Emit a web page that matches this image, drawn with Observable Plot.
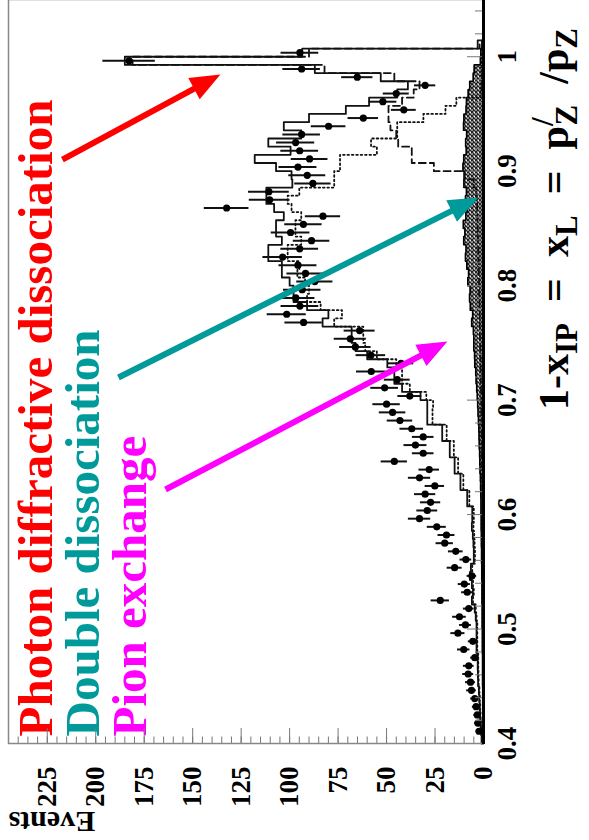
<!DOCTYPE html>
<html>
<head>
<meta charset="utf-8">
<script src="https://cdn.jsdelivr.net/npm/d3@7"></script>
<script src="https://cdn.jsdelivr.net/npm/@observablehq/plot@0.6"></script>
<style>
  html, body { margin: 0; padding: 0; background: #fff; }
  #page { position: relative; width: 589px; height: 840px; overflow: hidden; background: #fff; }
  /* the plot is laid out landscape and turned a quarter turn counter-clockwise */
  #page svg { position: absolute; left: 0; top: 0; max-width: none; transform-origin: 0 0;
              transform: translate(0, 840px) rotate(-90deg); }
</style>
</head>
<body>
<div id="page"></div>
<script>
// ---- binning: 84 bins between 0.4 and 1.0, extended past 1.0 -------------
const xStart = 0.4;
const binWidth = 0.6 / 84;

// ---- measured events per bin (bin 0 at x = 0.4) --------------------------
const dataCounts = [
  null, 2.3, 2.9, 3.2, 3.8, 4.5, 6.2, 6.7, 7.9, 7.6,
  4.5, 10.2, 5.5, 13.2, 9.3, 12.4, 7.6, 22.3, 8.4, 9.9,
  6.0, 14.9, 9.1, 14.3, 20.0, 19.1, 24.1, 33.0, 29.0, 27.3,
  30.1, 25.1, 33.0, 28.0, 46.0, 31.1, 35.1, 31.1, 37.0, 43.1,
  46.9, 50.0, 38.0, 51.0, 44.5, 57.9, 42.5, 58.1, 66.1, 68.7,
  63.9, 92.8, 101.5, 94.7, 96.8, 93.5, 87.0, 91.8, 95.7, 103.6,
  94.8, 88.7, 99.5, 92.9, 82.8, 132.5, 110.3, 110.7, 88.0, 90.9,
  95.7, 89.7, 94.8, 96.9, 93.8, 79.9, 62.0, 41.1, 51.9, 45.0,
  30.1, 65.1, 93.8, 182.8, 94.7
];

// ---- Monte Carlo expectations per bin ------------------------------------
const totalMC = [
  1.0, 1.2, 1.5, 1.8, 2.0, 2.2, 2.4, 2.8, 2.9, 3.0,
  3.0, 3.6, 3.6, 3.6, 3.6, 4.0, 4.5, 6.0, 5.5, 6.0,
  7.0, 6.5, 5.0, 5.0, 5.2, 5.5, 6.0, 5.8, 5.8, 8.4,
  8.4, 11.9, 11.9, 14.9, 14.9, 17.4, 17.4, 21.3, 21.3, 29.0,
  29.0, 29.0, 32.5, 42.0, 46.0, 46.0, 49.6, 60.0, 66.0, 68.0,
  68.0, 83.0, 80.0, 91.0, 98.0, 98.0, 100.0, 104.0, 104.0, 111.0,
  111.0, 104.0, 107.0, 107.0, 103.0, 108.0, 112.0, 112.0, 98.6, 99.0,
  107.0, 118.0, 99.5, 111.0, 94.0, 103.0, 90.0, 71.0, 59.0, 44.5,
  39.0, 53.0, 87.0, 185.0, 93.5, 3.0, 0
];
const pionMC = [
  0.8, 1.0, 1.3, 1.5, 1.7, 1.9, 2.1, 2.5, 2.6, 2.7,
  2.7, 3.2, 3.2, 3.2, 3.2, 3.6, 4.0, 5.4, 5.0, 5.4,
  6.2, 5.8, 4.4, 4.4, 4.6, 4.8, 5.2, 5.0, 5.0, 7.3,
  7.3, 10.4, 10.4, 13.1, 13.1, 15.3, 15.3, 19.0, 19.0, 26.3,
  26.3, 26.0, 29.5, 38.0, 42.0, 42.0, 45.0, 55.0, 61.0, 62.0,
  62.0, 77.0, 73.0, 84.0, 91.0, 90.0, 92.0, 96.0, 95.0, 101.0,
  101.0, 94.0, 97.0, 97.0, 94.0, 99.0, 101.0, 95.0, 77.0, 77.0,
  74.0, 74.0, 55.0, 58.0, 44.5, 44.5, 31.0, 19.6, 14.0, 1.5,
  1.2, 1.0, 1.0, 0.8, 0.5, 0
];
const diffractiveMC = [
  0.1, 0.1, 0.1, 0.1, 0.1, 0.1, 0.1, 0.1, 0.1, 0.1,
  0.2, 0.2, 0.2, 0.2, 0.2, 0.2, 0.2, 0.2, 0.2, 0.2,
  0.3, 0.3, 0.3, 0.4, 0.4, 0.4, 0.5, 0.5, 0.5, 0.6,
  0.6, 0.7, 0.7, 0.8, 0.8, 0.9, 0.9, 1.0, 1.0, 1.1,
  1.1, 1.2, 1.2, 1.3, 1.4, 1.5, 1.5, 1.6, 1.7, 1.8,
  1.9, 2.0, 2.0, 2.1, 2.2, 2.3, 2.3, 2.4, 2.5, 2.6,
  2.7, 2.8, 2.9, 3.0, 3.1, 3.2, 3.4, 3.8, 5.0, 10.0,
  25.6, 37.0, 37.0, 44.0, 45.0, 48.0, 49.0, 49.0, 42.0, 36.0,
  33.0, 46.0, 82.0, 181.0, 90.0, 2.0
];
const doubleDissMC = [
  0.3, 0.3, 0.3, 0.3, 0.4, 0.4, 0.4, 0.5, 0.5, 0.5,
  0.5, 0.6, 0.6, 0.6, 0.7, 0.7, 0.7, 0.8, 0.8, 0.8,
  0.9, 0.9, 1.0, 1.0, 1.1, 1.1, 1.2, 1.2, 1.3, 1.3,
  1.4, 1.5, 1.6, 1.8, 1.9, 2.0, 2.2, 2.3, 2.4, 2.6,
  2.8, 3.0, 3.2, 3.5, 3.8, 4.0, 4.5, 4.6, 5.0, 5.0,
  5.2, 6.1, 5.6, 6.8, 7.2, 6.9, 8.1, 7.7, 8.6, 9.3,
  9.0, 10.2, 9.6, 10.4, 9.1, 8.4, 9.3, 8.8, 10.1, 9.7,
  10.6, 10.2, 8.9, 9.2, 8.7, 10.3, 10.1, 9.0, 8.8, 7.9,
  7.1, 5.3, 4.8, 1.6, 1.4, 0.8
];

// ---- axes ----------------------------------------------------------------
const xTickValues = [0.4, 0.5, 0.6, 0.7, 0.8, 0.9, 1.0];
const xTickLabels = ["0.4", "0.5", "0.6", "0.7", "0.8", "0.9", "1"];
const xMinorTicks = [0.42, 0.44, 0.46, 0.48, 0.52, 0.54, 0.56, 0.58, 0.62, 0.64, 0.66, 0.68,
                     0.72, 0.74, 0.76, 0.78, 0.82, 0.84, 0.86, 0.88, 0.92, 0.94, 0.96, 0.98,
                     1.02, 1.04];
const yTickValues = [0, 25, 50, 75, 100, 125, 150, 175, 200, 225];
const yTickLabels = ["0", "25", "50", "75", "100", "125", "150", "175", "200", "225"];
const yMinorTicks = d3.range(0, 246, 5);

// ---- annotation labels and their arrows ----------------------------------
const legendLabels = ["Photon diffractive dissociation", "Double dissociation", "Pion exchange"];
const legendColors = ["#ff0000", "#009a9a", "#ff00ff"];
const arrowFromX = [0.9102, 0.7198, 0.6219];
const arrowFromY = [217.2, 188.3, 164.0];
const arrowToX = [0.9845, 0.8770, 0.7512];
const arrowToY = [135.7, 2.6, 18.6];

// ---- helpers --------------------------------------------------------------
function steps(values) {
  const pts = values.map((v, j) => ({x: xStart + j * binWidth, y: v}));
  pts.push({x: xStart + values.length * binWidth, y: values[values.length - 1]});
  return pts;
}
const points = dataCounts
  .map((v, j) => ({x: xStart + (j + 0.5) * binWidth, y: v}))
  .filter(d => d.y != null);
const arrows = legendColors.map((c, i) => ({
  x1: arrowFromX[i], y1: arrowFromY[i], x2: arrowToX[i], y2: arrowToY[i], color: c
}));
const xLabel = new Map(xTickValues.map((v, i) => [v, xTickLabels[i]]));
const yLabel = new Map(yTickValues.map((v, i) => [v, yTickLabels[i]]));

const serif = "'Liberation Serif', 'Times New Roman', Times, serif";
const tickColor = "#777";

const chart = Plot.plot({
  width: 840,
  height: 589,
  marginLeft: 96,
  marginRight: 0,
  marginTop: 8,
  marginBottom: 106,
  x: {domain: [0.4, 1.05]},
  y: {domain: [0, 245]},
  style: {fontFamily: serif, fontWeight: "bold", color: "black", background: "white", overflow: "visible"},
  marks: [
    // double dissociation: cross-hatched histogram
    Plot.areaY(steps(doubleDissMC), {x: "x", y: "y", curve: "step-after", fill: "#999"}),
    Plot.line(steps(doubleDissMC), {x: "x", y: "y", curve: "step-after", stroke: "#000", strokeWidth: 1.6}),
    // pion exchange: dotted
    Plot.line(steps(pionMC), {x: "x", y: "y", curve: "step-after", stroke: "#111", strokeWidth: 1.8, strokeDasharray: "1.6,2.8"}),
    // photon diffractive dissociation: dashed
    Plot.line(steps(diffractiveMC), {x: "x", y: "y", curve: "step-after", stroke: "#111", strokeWidth: 1.8, strokeDasharray: "7,4"}),
    // sum of all contributions: solid
    Plot.line(steps(totalMC), {x: "x", y: "y", curve: "step-after", stroke: "#111", strokeWidth: 1.8}),
    // data with Poisson errors
    Plot.ruleX(points, {x: "x", y1: d => d.y - Math.sqrt(d.y), y2: d => d.y + Math.sqrt(d.y), stroke: "#111", strokeWidth: 2}),
    Plot.dot(points, {x: "x", y: "y", r: 3.6, fill: "#000", stroke: null}),
    // annotation arrows
    ...arrows.map(a => Plot.link([a], {x1: "x1", y1: "y1", x2: "x2", y2: "y2", stroke: a.color, strokeWidth: 6})),
    // annotation labels
    ...legendLabels.map((t, i) => Plot.text([t], {
      frameAnchor: "top-left", dx: 7, dy: 43 + 47 * i, text: d => d,
      textAnchor: "start", lineAnchor: "bottom", fontSize: 49, fill: legendColors[i]
    })),
    Plot.text(["Events"], {
      frameAnchor: "top-left", dx: -68, dy: 0, text: d => d, rotate: -90,
      textAnchor: "end", lineAnchor: "bottom", fontSize: 30, fill: "#000"
    }),
    // axes: inward ticks, labels outside
    Plot.axisX({ticks: xMinorTicks, tickSize: -8, tickFormat: () => "", stroke: tickColor, label: null}),
    Plot.axisX({ticks: xTickValues, tickSize: -16, tickFormat: () => "", stroke: tickColor, label: null}),
    Plot.axisX({ticks: xTickValues, tickSize: 0, tickPadding: 13, tickFormat: d => xLabel.get(d), fontSize: 27, label: null}),
    Plot.axisY({ticks: yMinorTicks, tickSize: -7.5, tickFormat: () => "", stroke: tickColor, label: null}),
    Plot.axisY({ticks: yTickValues, tickSize: -16, tickFormat: () => "", stroke: tickColor, label: null}),
    Plot.axisY({ticks: yTickValues, tickSize: 0, tickPadding: 23, tickFormat: d => yLabel.get(d), fontSize: 27, label: null}),
    Plot.frame({stroke: "#888", strokeWidth: 1.5}),
    Plot.ruleY([0], {stroke: "#000", strokeWidth: 3})
  ]
});

chart.style.maxWidth = "none";
document.getElementById("page").appendChild(chart);

const svg = d3.select(chart);

// cross-hatch fill for the double dissociation histogram
const defs = svg.insert("defs", ":first-child");
const pat = defs.append("pattern").attr("id", "xhatch")
  .attr("patternUnits", "userSpaceOnUse").attr("width", 4).attr("height", 4);
pat.append("rect").attr("width", 4).attr("height", 4).attr("fill", "#eee");
pat.append("path").attr("d", "M0,0L4,4M4,0L0,4").attr("stroke", "#222").attr("stroke-width", 1.4);
svg.selectAll('g[aria-label="area"]').attr("fill", "url(#xhatch)")
  .selectAll("path").attr("fill", "url(#xhatch)");

// filled triangular heads on the annotation arrows
svg.selectAll('g[aria-label="link"]').each(function () {
  const g = d3.select(this);
  const color = g.attr("stroke");
  g.selectAll("path").each(function () {
    const p = d3.select(this);
    const n = p.attr("d").match(/-?\d*\.?\d+(?:e-?\d+)?/g).map(Number);
    const [x1, y1] = n, x2 = n[n.length - 2], y2 = n[n.length - 1];
    const len = Math.hypot(x2 - x1, y2 - y1);
    const ux = (x2 - x1) / len, uy = (y2 - y1) / len;
    const head = 30, half = 12;
    p.attr("d", `M${x1},${y1}L${x2 - ux * (head - 4)},${y2 - uy * (head - 4)}`);
    const bx = x2 - ux * head, by = y2 - uy * head;
    g.append("path")
      .attr("d", `M${x2},${y2}L${bx - uy * half},${by + ux * half}L${bx + uy * half},${by - ux * half}Z`)
      .attr("fill", color).attr("stroke", "none");
  });
});

// axis title: 1-x_IP = x_L = p'_Z / p_Z
const title = svg.append("text")
  .attr("x", 812).attr("y", 568).attr("text-anchor", "end")
  .attr("font-family", serif).attr("font-weight", "bold").attr("font-size", 42).attr("fill", "#000");
title.append("tspan").text("1-x");
title.append("tspan").attr("font-size", 31).attr("dy", 9).text("IP");
title.append("tspan").attr("dy", -9).text("\u2002=\u2002x");
title.append("tspan").attr("font-size", 31).attr("dy", 9).text("L");
title.append("tspan").attr("dy", -9).text("\u2002=\u2002p");
title.append("tspan").attr("font-size", 31).attr("dy", -15).text("/");
title.append("tspan").attr("font-size", 31).attr("dx", -8).attr("dy", 24).text("Z");
title.append("tspan").attr("dy", -9).text("\u2002/p");
title.append("tspan").attr("font-size", 31).attr("dy", 9).text("Z");
</script>
</body>
</html>
